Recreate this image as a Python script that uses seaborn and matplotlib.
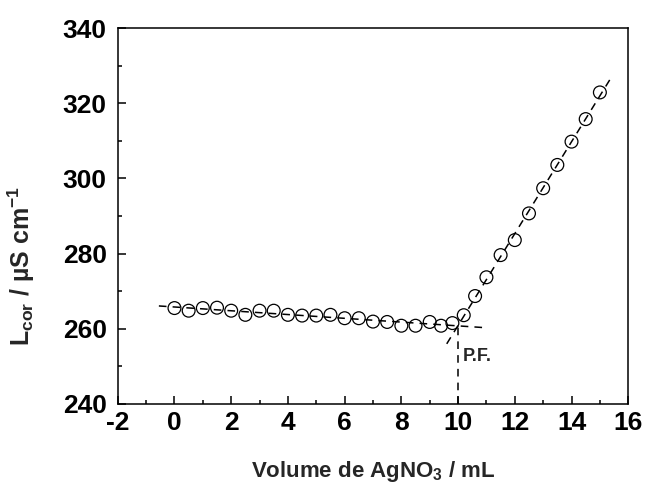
import numpy as np
import pandas as pd
import matplotlib
matplotlib.use('Agg')
import matplotlib.pyplot as plt
from matplotlib.ticker import MultipleLocator
import seaborn as sns

# titration data: volume of AgNO3 added (mL) and corrected conductance (uS/cm)
volume = [0, 0.5, 1, 1.5, 2, 2.5, 3, 3.5, 4, 4.5, 5, 5.5, 6, 6.5, 7, 7.5, 8, 8.5, 9, 9.4, 9.8,
          10.2, 10.6, 11.0, 11.5, 12.0, 12.5, 13.0, 13.5, 14.0, 14.5, 15.0]
conductance = [265.5, 264.8, 265.5, 265.6, 264.8, 263.7, 264.8, 264.8, 263.7, 263.5, 263.5,
               263.7, 262.8, 262.8, 261.9, 261.8, 260.8, 260.8, 261.8, 260.8, 261.5,
               263.6, 268.7, 273.7, 279.6, 283.6, 290.7, 297.4, 303.6, 309.8, 315.8, 322.9]
n_before = 21          # points before the end point
before_range = [-0.55, 10.85]
after_range = [9.6, 15.35]

df = pd.DataFrame({'volume': volume, 'conductance': conductance})
before = df.iloc[:n_before]
after = df.iloc[n_before:]

# straight line fits of both branches
m1, b1 = np.polyfit(before['volume'], before['conductance'], 1)
m2, b2 = np.polyfit(after['volume'], after['conductance'], 1)
x_pf = (b2 - b1) / (m1 - m2)
y_pf = m1 * x_pf + b1

sns.set_style('ticks')
plt.rcParams['font.family'] = ['Liberation Sans', 'DejaVu Sans']
plt.rcParams['font.weight'] = 'bold'
plt.rcParams['mathtext.default'] = 'regular'
plt.rcParams['axes.unicode_minus'] = False

fig, ax = plt.subplots(figsize=(6.47, 4.86), dpi=100)
fig.subplots_adjust(left=0.182, right=0.971, top=0.942, bottom=0.169)

sns.scatterplot(data=df, x='volume', y='conductance', marker='o', s=85,
                facecolor='none', edgecolor='black', linewidth=0.9, ax=ax, zorder=2)

dash = (0, (5, 4))
x1 = np.array(before_range)
x2 = np.array(after_range)
sns.lineplot(x=x1, y=m1 * x1 + b1, color='black', lw=1.1, linestyle=dash,
             estimator=None, sort=False, ax=ax, zorder=3)
sns.lineplot(x=x2, y=m2 * x2 + b2, color='black', lw=1.1, linestyle=dash,
             estimator=None, sort=False, ax=ax, zorder=3)
ax.plot([x_pf, x_pf], [240, y_pf], color='black', lw=1.1, linestyle=dash, zorder=3)

ax.text(10.18, 252.5, 'P.F.', fontsize=13, fontweight='bold', va='center', ha='left')

ax.set_xlim(-2, 16)
ax.set_ylim(240, 340)
ax.xaxis.set_major_locator(MultipleLocator(2))
ax.xaxis.set_minor_locator(MultipleLocator(1))
ax.yaxis.set_major_locator(MultipleLocator(20))
ax.yaxis.set_minor_locator(MultipleLocator(10))
ax.tick_params(which='both', direction='in', top=False, right=False, width=1.1, colors='black')
ax.tick_params(which='major', length=5.5, labelsize=19)
ax.tick_params(axis='x', which='major', pad=5)
ax.tick_params(axis='y', which='major', pad=8)
ax.tick_params(which='minor', length=3)
for s in ax.spines.values():
    s.set_visible(True)
    s.set_linewidth(1.1)
    s.set_color('black')

ax.set_xlabel('Volume de AgNO$_3$ / mL', fontsize=16, fontweight='bold')
ax.set_ylabel('L$_{cor}$ / µS cm$^{-1}$', fontsize=18, fontweight='bold')
ax.xaxis.set_label_coords(0.5, -0.148)
ax.yaxis.set_label_coords(-0.159, 0.367)

fig.savefig('out.png', dpi=100)
